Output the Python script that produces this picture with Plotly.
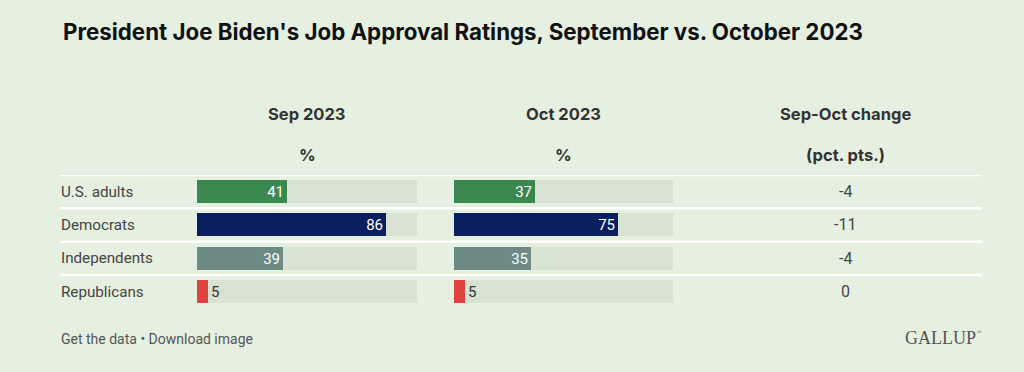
import plotly.graph_objects as go

# ---- data ----
groups = ["U.S. adults", "Democrats", "Independents", "Republicans"]
sep_2023 = [41, 86, 39, 5]
oct_2023 = [37, 75, 35, 5]
change = ["-4", "-11", "-4", "0"]
bar_colors = ["#3b8750", "#0b1f60", "#6e8a85", "#e3403f"]
col_headers = ["Sep 2023", "Oct 2023", "Sep-Oct change"]
col_units = ["%", "%", "(pct. pts.)"]
title = "President Joe Biden's Job Approval Ratings, September vs. October 2023"
footer = "Get the data \u2022 Download image"

W, H = 1024, 372
BG = "#e5f0e1"
TRACK = "#d7e2d3"
FONT = "Inter, 'Open Sans', sans-serif"
BODY = "Roboto, 'Open Sans', sans-serif"

def px(x):
    return x / W

def py(y):
    return 1 - y / H

fig = go.Figure()

for vals, xa in ((sep_2023, "x"), (oct_2023, "x2")):
    fig.add_trace(go.Bar(
        y=groups, x=[100] * len(groups), orientation="h",
        marker=dict(color=TRACK, line=dict(width=0)),
        width=0.69, xaxis=xa, yaxis="y", hoverinfo="skip", showlegend=False,
    ))
    fig.add_trace(go.Bar(
        y=groups, x=vals, orientation="h",
        marker=dict(color=bar_colors, line=dict(width=0)),
        width=0.69, xaxis=xa, yaxis="y", showlegend=False,
        text=[str(v) for v in vals],
        textposition=["inside" if v > 10 else "outside" for v in vals],
        insidetextanchor="end",
        insidetextfont=dict(color="white", size=15, family=BODY),
        outsidetextfont=dict(color="#333333", size=15, family=BODY),
        textangle=0, constraintext="none", cliponaxis=False,
    ))

axis_common = dict(showgrid=False, zeroline=False, showticklabels=False,
                   showline=False, ticks="", range=[0, 100], fixedrange=True)

fig.update_layout(
    width=W, height=H, margin=dict(l=0, r=0, t=0, b=0),
    paper_bgcolor=BG, plot_bgcolor="rgba(0,0,0,0)",
    barmode="overlay", bargap=0,
    font=dict(family=FONT, color="#333333"),
    xaxis=dict(domain=[px(197), px(417)], anchor="y", **axis_common),
    xaxis2=dict(domain=[px(454), px(673)], anchor="y", **axis_common),
    yaxis=dict(domain=[py(308.3), py(175)], range=[3.5, -0.5],
               showgrid=False, zeroline=False, showticklabels=False,
               showline=False, ticks="", fixedrange=True),
)

# row separators
shapes = []
for i in range(len(groups)):
    shapes.append(dict(type="line", xref="paper", yref="y",
                       x0=px(60), x1=px(982), y0=i - 0.5, y1=i - 0.5,
                       line=dict(color="white", width=2.5), layer="below"))
fig.update_layout(shapes=shapes)

ann = []
# title
ann.append(dict(text="<b>" + title + "</b>", x=px(61), y=py(31), xref="paper", yref="paper",
                xanchor="left", yanchor="middle", showarrow=False,
                font=dict(size=22.3, color="#111111", family=FONT)))
# column headers
for cx, h, u in zip([307, 563, 845], col_headers, col_units):
    ann.append(dict(text="<b>" + h + "</b>", x=px(cx), y=py(114), xref="paper", yref="paper",
                    xanchor="center", yanchor="middle", showarrow=False,
                    font=dict(size=16.5, color="#333333", family=FONT)))
    ann.append(dict(text="<b>" + u + "</b>", x=px(cx), y=py(155), xref="paper", yref="paper",
                    xanchor="center", yanchor="middle", showarrow=False,
                    font=dict(size=16.5, color="#333333", family=FONT)))
# row labels and change values
for g, c in zip(groups, change):
    ann.append(dict(text=g, x=px(59), y=g, xref="paper", yref="y",
                    xanchor="left", yanchor="middle", showarrow=False,
                    font=dict(size=15.2, color="#444444", family=BODY)))
    ann.append(dict(text=c, x=px(845), y=g, xref="paper", yref="y",
                    xanchor="center", yanchor="middle", showarrow=False,
                    font=dict(size=16, color="#444444", family=BODY)))
# footer
ann.append(dict(text=footer, x=px(59), y=py(339), xref="paper", yref="paper",
                xanchor="left", yanchor="middle", showarrow=False,
                font=dict(size=14, color="#555555", family=BODY)))
ann.append(dict(text="GALLUP", x=px(978), y=py(338), xref="paper", yref="paper",
                xanchor="right", yanchor="middle", showarrow=False,
                font=dict(size=18, color="#555555", family="'Liberation Serif', 'DejaVu Serif', serif")))
ann.append(dict(text="\u00ae", x=px(975), y=py(332), xref="paper", yref="paper",
                xanchor="left", yanchor="middle", showarrow=False,
                font=dict(size=6, color="#555555", family="'Liberation Serif', serif")))
fig.update_layout(annotations=ann)

fig.write_html("out.html", config={"displayModeBar": False},
               post_script="document.body.style.margin='0';document.body.style.background='#e5f0e1';")
